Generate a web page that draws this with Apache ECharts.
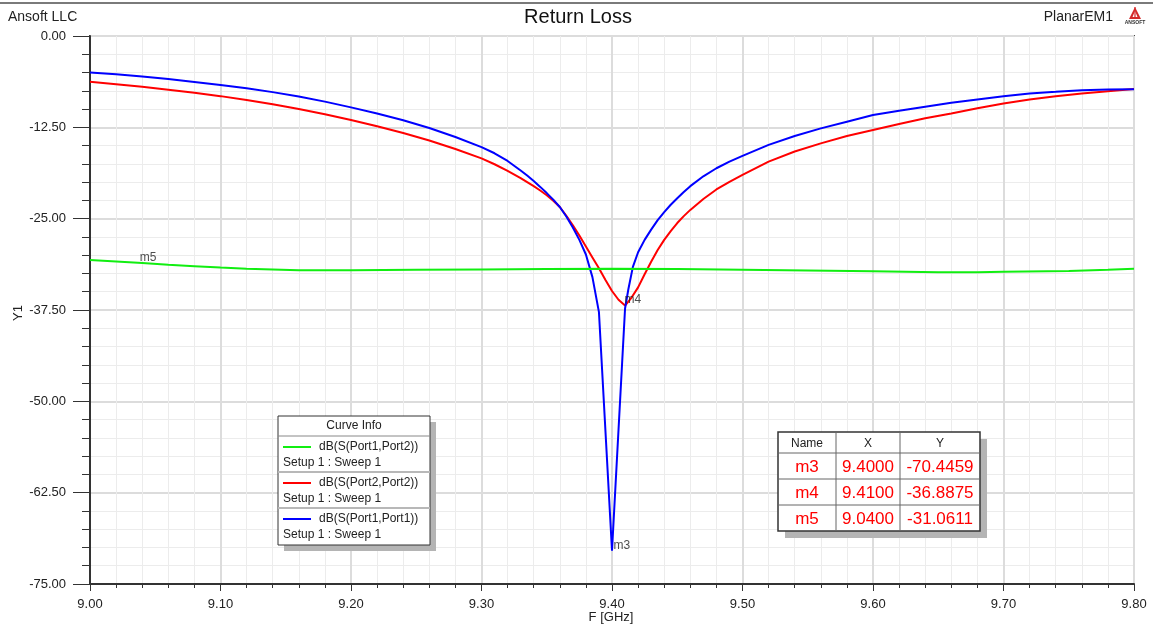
<!DOCTYPE html>
<html>
<head>
<meta charset="utf-8">
<title>Return Loss</title>
<script src="https://cdn.jsdelivr.net/npm/echarts@6/dist/echarts.min.js"></script>
<style>
  html, body { margin: 0; padding: 0; background: #ffffff; }
  #chart { width: 1153px; height: 627px; }
</style>
</head>
<body>
<div id="chart"></div>
<script>
// ---- Sweep data: frequency (GHz) and magnitude (dB) ----
const freqS21 = [9.00, 9.02, 9.04, 9.06, 9.08, 9.10, 9.12, 9.14, 9.16, 9.20, 9.25, 9.30, 9.35, 9.40,
                 9.45, 9.50, 9.55, 9.60, 9.65, 9.68, 9.70, 9.75, 9.78, 9.80];
const dbS21 = [-30.65, -30.85, -31.0611, -31.30, -31.50, -31.70, -31.85, -31.95, -32.05, -32.05, -32.00,
               -31.95, -31.90, -31.85, -31.90, -32.00, -32.10, -32.20, -32.35, -32.35, -32.25, -32.15,
               -32.00, -31.85];

const freqS22 = [9.00, 9.02, 9.04, 9.06, 9.08, 9.10, 9.12, 9.14, 9.16, 9.18, 9.20, 9.22, 9.24, 9.26,
                 9.28, 9.30, 9.31, 9.32, 9.33, 9.335, 9.34, 9.345, 9.35, 9.355, 9.36, 9.365, 9.37,
                 9.375, 9.38, 9.385, 9.39, 9.395, 9.40, 9.405, 9.41, 9.415, 9.42, 9.425, 9.43, 9.435,
                 9.44, 9.445, 9.45, 9.455, 9.46, 9.47, 9.48, 9.49, 9.50, 9.52, 9.54, 9.56, 9.58, 9.60,
                 9.62, 9.64, 9.66, 9.68, 9.70, 9.72, 9.74, 9.76, 9.78, 9.80];
const dbS22 = [-6.27, -6.60, -6.96, -7.35, -7.77, -8.23, -8.76, -9.35, -10.00, -10.71, -11.50, -12.35,
               -13.28, -14.31, -15.46, -16.75, -17.55, -18.45, -19.45, -20.00, -20.55, -21.15, -21.80,
               -22.55, -23.40, -24.60, -25.90, -27.30, -28.80, -30.30, -31.80, -33.40, -34.90, -36.10,
               -36.8875, -35.80, -34.40, -32.60, -30.90, -29.30, -27.90, -26.70, -25.60, -24.65, -23.80,
               -22.30, -21.00, -19.95, -19.00, -17.20, -15.80, -14.70, -13.68, -12.86, -12.05, -11.27,
               -10.60, -9.90, -9.23, -8.68, -8.23, -7.86, -7.55, -7.27];

const freqS11 = [9.00, 9.02, 9.04, 9.06, 9.08, 9.10, 9.12, 9.14, 9.16, 9.18, 9.20, 9.22, 9.24, 9.26,
                 9.28, 9.30, 9.31, 9.32, 9.33, 9.335, 9.34, 9.345, 9.35, 9.355, 9.36, 9.365, 9.37,
                 9.375, 9.38, 9.385, 9.39, 9.40, 9.41, 9.4125, 9.416, 9.42, 9.425, 9.43, 9.435, 9.44,
                 9.445, 9.45, 9.455, 9.46, 9.47, 9.48, 9.49, 9.50, 9.52, 9.54, 9.56, 9.58, 9.60, 9.62,
                 9.64, 9.66, 9.68, 9.70, 9.72, 9.74, 9.76, 9.78, 9.80];
const dbS11 = [-5.00, -5.25, -5.55, -5.90, -6.28, -6.70, -7.16, -7.68, -8.27, -8.98, -9.77, -10.60,
               -11.53, -12.60, -13.82, -15.20, -16.05, -17.10, -18.40, -19.10, -19.85, -20.65, -21.50,
               -22.40, -23.40, -24.70, -26.20, -27.90, -29.90, -33.00, -37.80, -70.4459, -37.30, -34.70,
               -31.60, -29.60, -27.90, -26.50, -25.20, -24.10, -23.10, -22.20, -21.35, -20.55, -19.20,
               -18.10, -17.20, -16.40, -14.90, -13.68, -12.64, -11.73, -10.82, -10.23, -9.68, -9.14,
               -8.68, -8.23, -7.86, -7.64, -7.41, -7.32, -7.30];

// ---- Markers ----
const markerNames = ['m3', 'm4', 'm5'];
const markerX = [9.4000, 9.4100, 9.0400];
const markerY = [-70.4459, -36.8875, -31.0611];

// ---- Axis ticks, axis titles and legend text ----
const xTicks = { min: 9.0, max: 9.8, step: 0.1 };
const yTicks = { min: -75, max: 0, step: 12.5 };
const xTitle = 'F [GHz]';
const yTitle = 'Y1';
const curveNames = ['dB(S(Port1,Port2))', 'dB(S(Port2,Port2))', 'dB(S(Port1,Port1))'];
const sweepName = 'Setup 1 : Sweep 1';

// ---- Styles ----
const FONT = '"Liberation Sans", Arial, sans-serif';
const curveColors = ['#11ee11', '#ff0000', '#0000ff'];

const zip = (f, v) => f.map((x, i) => [x, v[i]]);
const curveData = [zip(freqS21, dbS21), zip(freqS22, dbS22), zip(freqS11, dbS11)];

const chart = echarts.init(document.getElementById('chart'), null, { renderer: 'canvas' });

// Line series: S22 underneath, then S11, S21 drawn on top
const drawOrder = [1, 2, 0];
const series = drawOrder.map(i => ({
  name: curveNames[i],
  type: 'line',
  data: curveData[i],
  showSymbol: false,
  symbol: 'none',
  lineStyle: { color: curveColors[i], width: 2 },
  silent: true,
  z: 3 + drawOrder.indexOf(i),
  animation: false
}));

// Marker labels placed at the marker coordinates
const markerLabelPos = [
  { position: 'right', offset: [-4, -5] },
  { position: 'right', offset: [-6, -6] },
  { position: 'top', offset: [6, 6] }
];
series.push({
  type: 'scatter',
  symbolSize: 1,
  itemStyle: { color: 'rgba(0,0,0,0)' },
  z: 10,
  silent: true,
  animation: false,
  data: markerNames.map((n, i) => ({
    name: n,
    value: [markerX[i], markerY[i]],
    label: {
      show: true,
      formatter: n,
      position: markerLabelPos[i].position,
      offset: markerLabelPos[i].offset,
      color: '#222',
      fontSize: 12,
      fontFamily: FONT
    }
  }))
});

// ---- Overlay graphics: header, axis titles, curve info box, marker table ----
const g = [];
g.push({ type: 'line', shape: { x1: 0, y1: 3, x2: 1153, y2: 3 }, style: { stroke: '#7a7a7a', lineWidth: 2 }, silent: true });
g.push({ type: 'text', style: { text: 'Ansoft LLC', x: 8, y: 17, fill: '#222', fontSize: 14, fontFamily: FONT, verticalAlign: 'middle' } });
g.push({ type: 'text', style: { text: 'Return Loss', x: 578, y: 17, fill: '#111', fontSize: 20, fontFamily: FONT, align: 'center', verticalAlign: 'middle' } });
g.push({ type: 'text', style: { text: 'PlanarEM1', x: 1113, y: 17, fill: '#222', fontSize: 14, fontFamily: FONT, align: 'right', verticalAlign: 'middle' } });
// company mark
g.push({ type: 'polygon', shape: { points: [[1135, 7], [1129, 19], [1141, 19]] }, style: { fill: '#d42a2a' } });
g.push({ type: 'polygon', shape: { points: [[1135, 11], [1132.5, 17], [1137.5, 17]] }, style: { fill: '#ffffff' } });
g.push({ type: 'line', shape: { x1: 1135, y1: 7, x2: 1135, y2: 19 }, style: { stroke: '#d42a2a', lineWidth: 1.2 } });
g.push({ type: 'text', style: { text: 'ANSOFT', x: 1135, y: 23, fill: '#333', fontSize: 5, fontWeight: 'bold', fontFamily: FONT, align: 'center', verticalAlign: 'middle' } });

// axis titles
g.push({ type: 'text', x: 611, y: 617, style: { text: xTitle, fill: '#222', fontSize: 13, fontFamily: FONT, align: 'center', verticalAlign: 'middle' } });
g.push({ type: 'text', x: 18, y: 313, rotation: Math.PI / 2, style: { text: yTitle, fill: '#222', fontSize: 13, fontFamily: FONT, align: 'center', verticalAlign: 'middle' } });

// Curve info box
const lb = { x: 278, y: 416, w: 152, head: 20, row: 36 };
const lbH = lb.head + lb.row * curveNames.length + 1;
g.push({ type: 'rect', shape: { x: lb.x + 6, y: lb.y + 6, width: lb.w, height: lbH }, style: { fill: '#b4b4b4' }, z: 20 });
g.push({ type: 'rect', shape: { x: lb.x, y: lb.y, width: lb.w, height: lbH }, style: { fill: '#ffffff', stroke: '#333', lineWidth: 1 }, z: 21 });
g.push({ type: 'text', style: { text: 'Curve Info', x: lb.x + lb.w / 2, y: lb.y + 10, fill: '#222', fontSize: 12, fontFamily: FONT, align: 'center', verticalAlign: 'middle' }, z: 22 });
g.push({ type: 'line', shape: { x1: lb.x, y1: lb.y + lb.head, x2: lb.x + lb.w, y2: lb.y + lb.head }, style: { stroke: '#888', lineWidth: 1 }, z: 22 });
curveNames.forEach((name, i) => {
  const top = lb.y + lb.head + i * lb.row;
  g.push({ type: 'line', shape: { x1: lb.x + 5, y1: top + 11, x2: lb.x + 33, y2: top + 11 }, style: { stroke: curveColors[i], lineWidth: 2 }, z: 22 });
  g.push({ type: 'text', style: { text: name, x: lb.x + 41, y: top + 11, fill: '#222', fontSize: 12, fontFamily: FONT, verticalAlign: 'middle' }, z: 22 });
  g.push({ type: 'text', style: { text: sweepName, x: lb.x + 5, y: top + 27, fill: '#222', fontSize: 12, fontFamily: FONT, verticalAlign: 'middle' }, z: 22 });
  if (i < curveNames.length - 1) {
    g.push({ type: 'line', shape: { x1: lb.x, y1: top + lb.row, x2: lb.x + lb.w, y2: top + lb.row }, style: { stroke: '#b8b8b8', lineWidth: 2 }, z: 22 });
  }
});

// Marker table
const tb = { x: 778, y: 432, cols: [58, 64, 80], head: 21, row: 26 };
const tbW = tb.cols.reduce((a, b) => a + b, 0);
const tbH = tb.head + tb.row * markerNames.length;
g.push({ type: 'rect', shape: { x: tb.x + 7, y: tb.y + 7, width: tbW, height: tbH }, style: { fill: '#b4b4b4' }, z: 20 });
g.push({ type: 'rect', shape: { x: tb.x, y: tb.y, width: tbW, height: tbH }, style: { fill: '#ffffff', stroke: '#333', lineWidth: 1.5 }, z: 21 });
const colX = [tb.x];
tb.cols.forEach(c => colX.push(colX[colX.length - 1] + c));
colX.slice(1, -1).forEach(x => g.push({ type: 'line', shape: { x1: x, y1: tb.y, x2: x, y2: tb.y + tbH }, style: { stroke: '#666', lineWidth: 1 }, z: 22 }));
for (let r = 0; r < markerNames.length; r++) {
  const y = tb.y + tb.head + r * tb.row;
  g.push({ type: 'line', shape: { x1: tb.x, y1: y, x2: tb.x + tbW, y2: y }, style: { stroke: '#666', lineWidth: 1 }, z: 22 });
}
['Name', 'X', 'Y'].forEach((h, c) => {
  g.push({ type: 'text', style: { text: h, x: (colX[c] + colX[c + 1]) / 2, y: tb.y + tb.head / 2 + 1, fill: '#222', fontSize: 12, fontFamily: FONT, align: 'center', verticalAlign: 'middle' }, z: 23 });
});
markerNames.forEach((n, r) => {
  const cells = [n, markerX[r].toFixed(4), markerY[r].toFixed(4)];
  const y = tb.y + tb.head + r * tb.row + tb.row / 2 + 1;
  cells.forEach((t, c) => {
    g.push({ type: 'text', style: { text: t, x: (colX[c] + colX[c + 1]) / 2, y: y, fill: '#ff0000', fontSize: 17, fontFamily: FONT, align: 'center', verticalAlign: 'middle' }, z: 23 });
  });
});

const option = {
  animation: false,
  backgroundColor: '#ffffff',
  grid: {
    left: 90, right: 19, top: 36, bottom: 43,
    outerBoundsMode: 'none', containLabel: false,
    show: true, borderColor: '#4a4a4a', borderWidth: 2
  },
  xAxis: {
    type: 'value',
    min: xTicks.min, max: xTicks.max, interval: xTicks.step,
    axisLine: { show: true, onZero: false, lineStyle: { color: '#333', width: 2 } },
    axisTick: { show: true, length: 7, lineStyle: { color: '#333', width: 1 } },
    minorTick: { show: true, splitNumber: 5, length: 4, lineStyle: { color: '#333', width: 1 } },
    splitLine: { show: true, lineStyle: { color: '#dcdcdc', width: 2 } },
    minorSplitLine: { show: true, lineStyle: { color: '#ececec', width: 1 } },
    axisLabel: { color: '#222', fontSize: 13, fontFamily: FONT, margin: 14, formatter: v => v.toFixed(2) }
  },
  yAxis: {
    type: 'value',
    min: yTicks.min, max: yTicks.max, interval: yTicks.step,
    axisLine: { show: true, onZero: false, lineStyle: { color: '#333', width: 2 } },
    axisTick: { show: true, length: 17, lineStyle: { color: '#333', width: 1 } },
    minorTick: { show: true, splitNumber: 5, length: 8, lineStyle: { color: '#333', width: 1 } },
    splitLine: { show: true, lineStyle: { color: '#dcdcdc', width: 2 } },
    minorSplitLine: { show: true, lineStyle: { color: '#ececec', width: 1 } },
    axisLabel: { color: '#222', fontSize: 13, fontFamily: FONT, margin: 24, formatter: v => v.toFixed(2) }
  },
  series: series,
  graphic: g
};
chart.setOption(option);
</script>
</body>
</html>
